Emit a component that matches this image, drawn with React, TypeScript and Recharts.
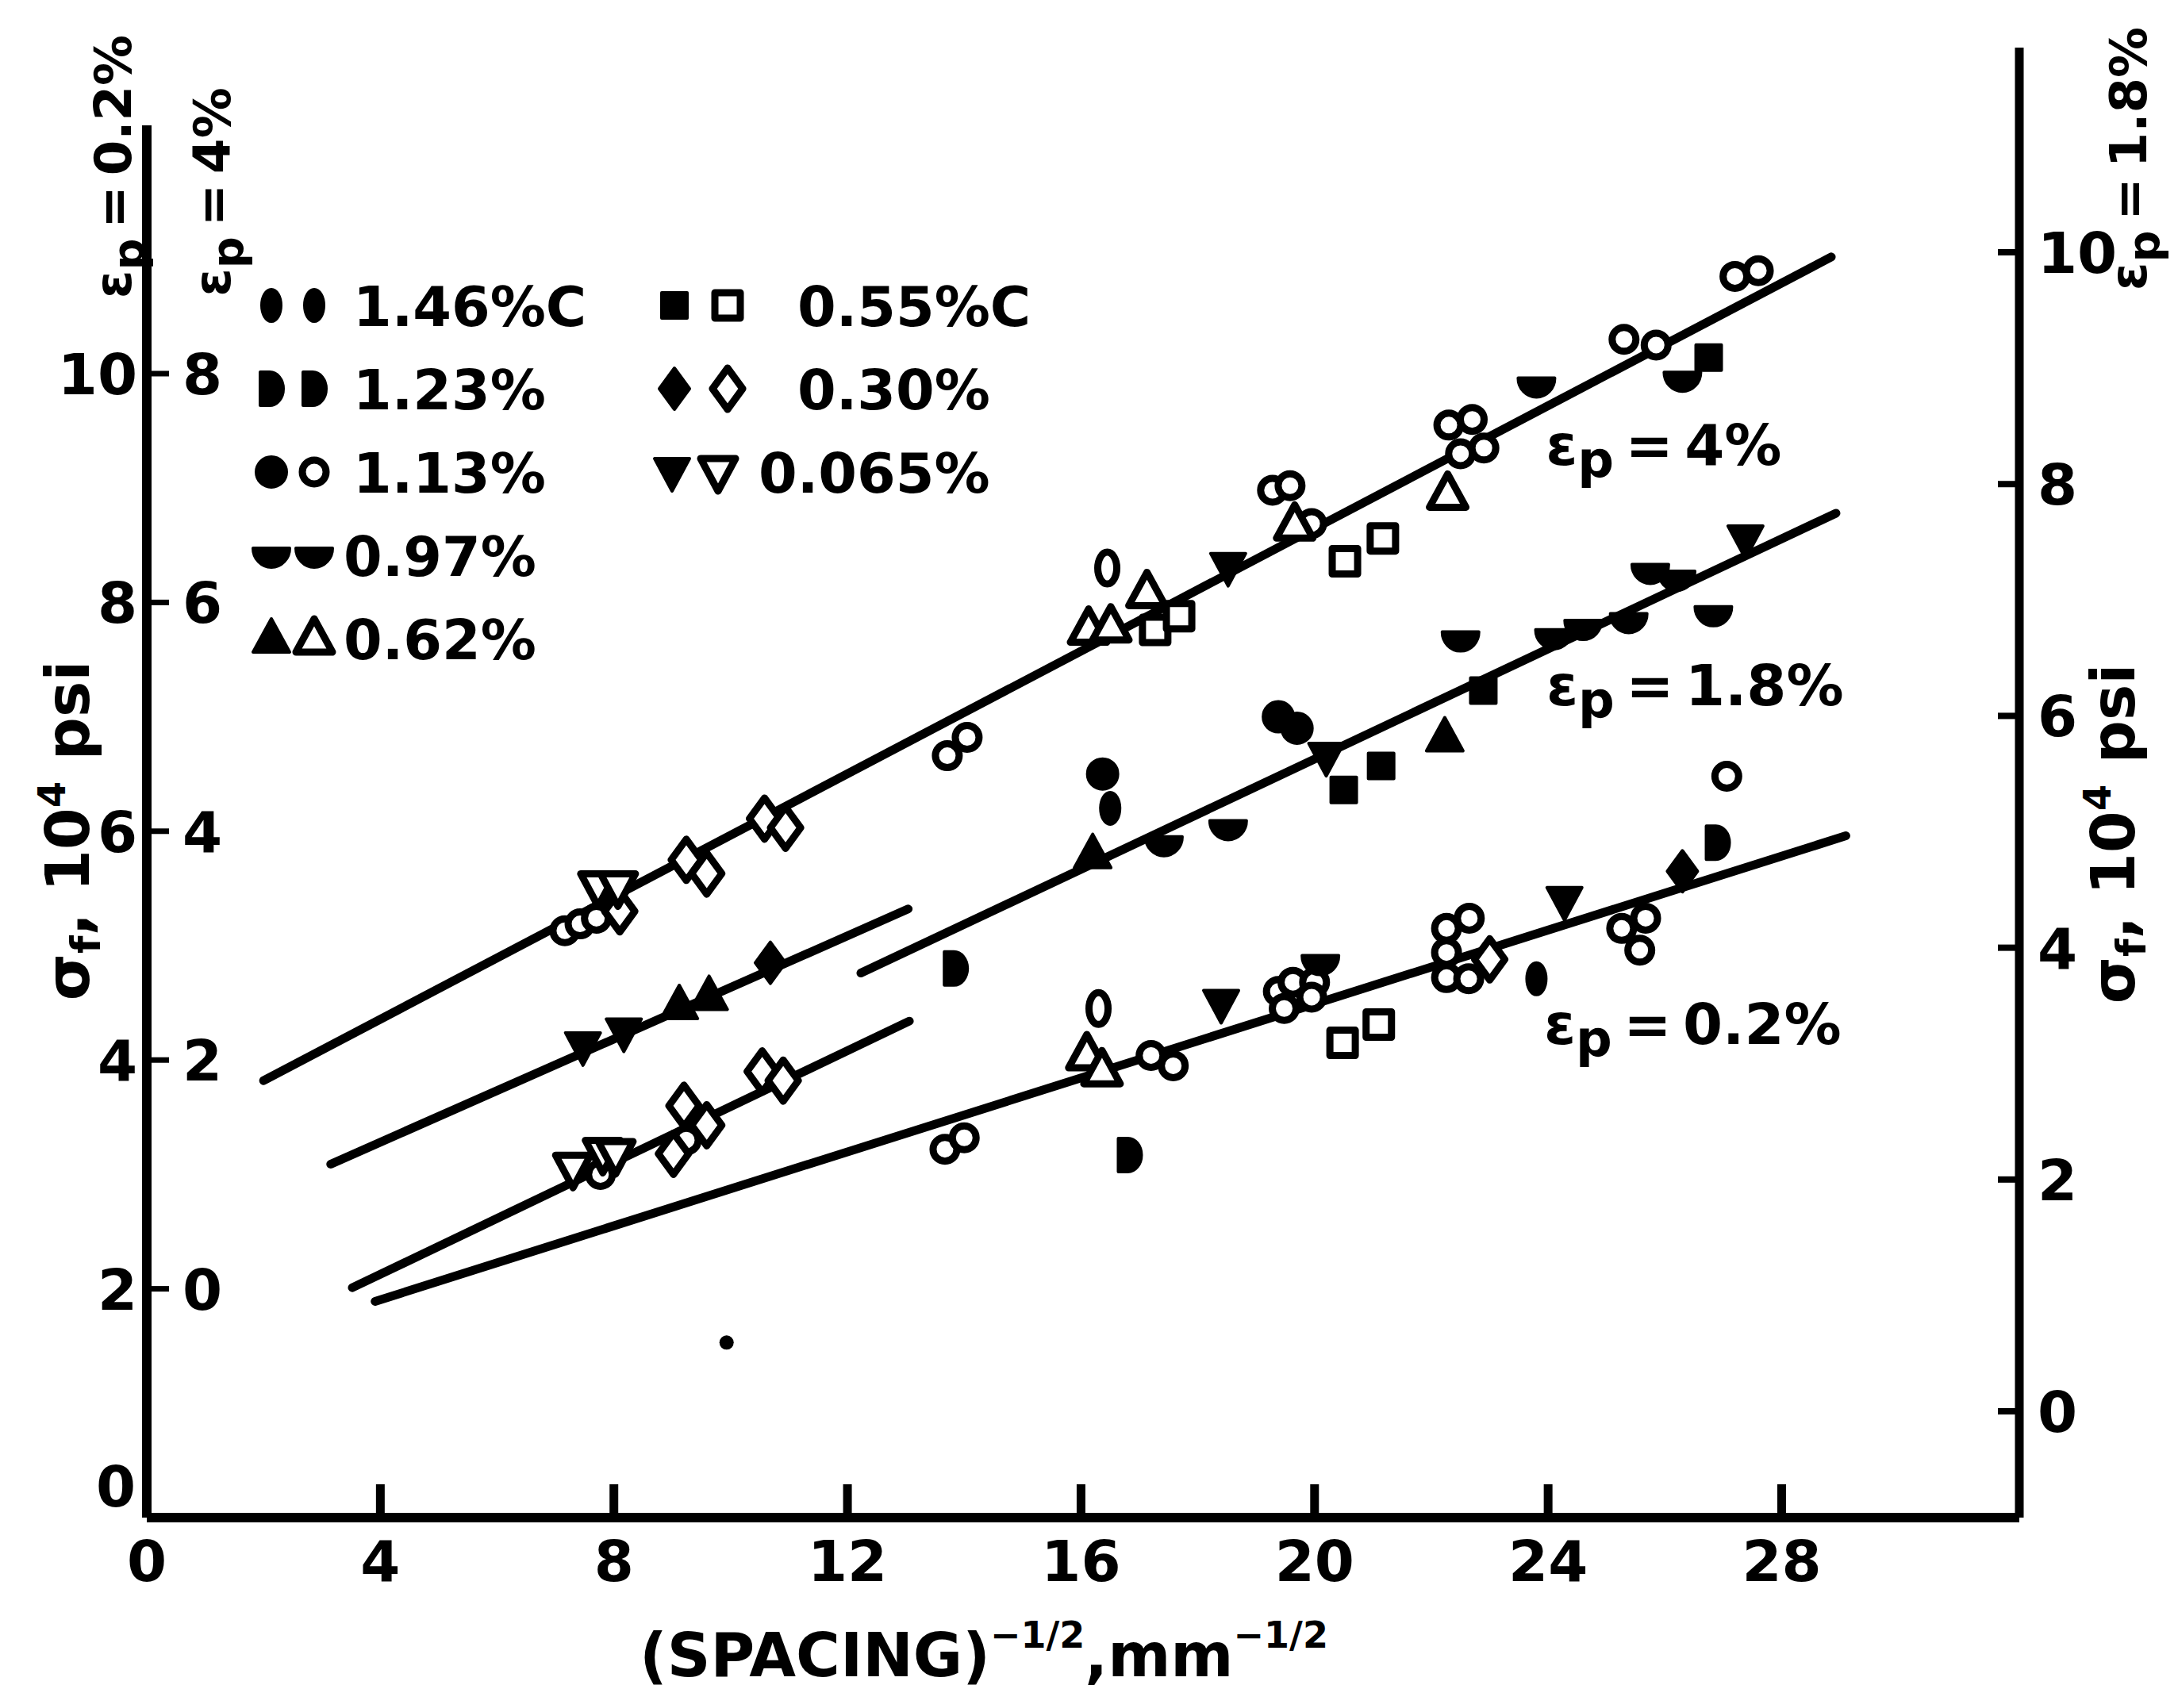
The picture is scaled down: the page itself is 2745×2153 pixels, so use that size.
import React from "react";
import {
  ComposedChart,
  Line,
  Scatter,
  XAxis,
  YAxis,
  ReferenceLine,
  ReferenceDot,
  Legend,
} from "recharts";

type Pt = { x: number; v: number };
type Kind = "ellipse" | "dshape" | "circle" | "halfdisc" | "tri" | "square" | "diamond" | "tridown";

const FONT = "'DejaVu Sans', 'Liberation Sans', sans-serif";
const FS = 72;

// axis ticks
const xTicks = [0, 4, 8, 12, 16, 20, 24, 28];
const leftTicks = [0, 2, 4, 6, 8, 10]; // sigma for 0.2% scale
const leftInnerLabels = ["", "0", "2", "4", "6", "8"]; // 4% scale
const rightTicks = [0, 2, 4, 6, 8, 10];

// fitted lines
const line4pct: Pt[] = [{ x: 2.0, v: 3.82 }, { x: 28.85, v: 11.02 }];
const line18Low: Pt[] = [{ x: 3.15, v: 3.09 }, { x: 13.04, v: 5.32 }];
const line18High: Pt[] = [{ x: 12.23, v: 4.76 }, { x: 28.93, v: 8.78 }];
const line02HighC: Pt[] = [{ x: 3.52, v: 2.01 }, { x: 13.06, v: 4.34 }];
const line02: Pt[] = [{ x: 3.91, v: 1.89 }, { x: 29.1, v: 5.96 }];

// measured points, by carbon content (filled / open)
const c146Filled: Pt[] = [{ x: 23.8, v: 4.71 }, { x: 16.5, v: 6.2 }];
const c146Open: Pt[] = [{ x: 16.3, v: 4.45 }, { x: 16.45, v: 8.3 }];
const c123Filled: Pt[] = [{ x: 13.85, v: 4.8 }, { x: 16.83, v: 3.17 }, { x: 26.9, v: 5.9 }];
const c113Filled: Pt[] = [{ x: 16.37, v: 6.5 }, { x: 19.38, v: 7.0 }, { x: 19.7, v: 6.9 }];
const c113Open: Pt[] = [
  { x: 7.16, v: 5.13 }, { x: 7.42, v: 5.19 }, { x: 7.7, v: 5.24 },
  { x: 13.71, v: 6.66 }, { x: 14.05, v: 6.82 },
  { x: 19.28, v: 8.98 }, { x: 19.58, v: 9.02 }, { x: 19.95, v: 8.69 },
  { x: 22.3, v: 9.55 }, { x: 22.7, v: 9.6 }, { x: 22.5, v: 9.3 }, { x: 22.9, v: 9.35 },
  { x: 25.3, v: 10.3 }, { x: 25.85, v: 10.25 }, { x: 27.2, v: 10.85 }, { x: 27.6, v: 10.9 },
  { x: 7.77, v: 3.0 }, { x: 9.24, v: 3.3 },
  { x: 13.67, v: 3.22 }, { x: 14.0, v: 3.32 }, { x: 17.2, v: 4.04 }, { x: 17.58, v: 3.95 },
  { x: 19.38, v: 4.6 }, { x: 19.63, v: 4.68 }, { x: 20.0, v: 4.68 }, { x: 19.48, v: 4.45 }, { x: 19.95, v: 4.55 },
  { x: 22.26, v: 5.15 }, { x: 22.65, v: 5.24 }, { x: 22.26, v: 4.94 }, { x: 22.26, v: 4.72 }, { x: 22.64, v: 4.71 },
  { x: 25.26, v: 5.15 }, { x: 25.67, v: 5.24 }, { x: 25.57, v: 4.96 },
  { x: 27.06, v: 6.48 },
];
const c097Filled: Pt[] = [
  { x: 17.42, v: 5.89 }, { x: 18.52, v: 6.03 }, { x: 22.5, v: 7.68 }, { x: 24.1, v: 7.7 },
  { x: 24.6, v: 7.78 }, { x: 25.38, v: 7.84 }, { x: 25.75, v: 8.27 }, { x: 26.2, v: 8.21 },
  { x: 26.83, v: 7.9 }, { x: 23.8, v: 9.9 }, { x: 26.3, v: 9.95 }, { x: 20.1, v: 4.85 },
];
const c062Filled: Pt[] = [{ x: 9.12, v: 4.48 }, { x: 9.63, v: 4.56 }, { x: 16.2, v: 5.8 }, { x: 22.23, v: 6.82 }];
const c062Open: Pt[] = [
  { x: 17.13, v: 8.09 }, { x: 16.13, v: 7.77 }, { x: 16.51, v: 7.79 }, { x: 19.66, v: 8.68 },
  { x: 22.28, v: 8.95 }, { x: 16.1, v: 4.05 }, { x: 16.36, v: 3.91 },
];
const c055Filled: Pt[] = [{ x: 20.5, v: 6.36 }, { x: 21.14, v: 6.57 }, { x: 22.89, v: 7.23 }, { x: 26.75, v: 10.14 }];
const c055Open: Pt[] = [
  { x: 17.27, v: 7.76 }, { x: 17.68, v: 7.88 }, { x: 20.52, v: 8.36 }, { x: 21.17, v: 8.56 },
  { x: 20.48, v: 4.15 }, { x: 21.1, v: 4.31 },
];
const c030Filled: Pt[] = [{ x: 10.68, v: 4.85 }, { x: 26.3, v: 5.65 }];
const c030Open: Pt[] = [
  { x: 8.1, v: 5.3 }, { x: 9.24, v: 5.75 }, { x: 9.59, v: 5.63 }, { x: 10.58, v: 6.11 }, { x: 10.94, v: 6.03 },
  { x: 9.2, v: 3.6 }, { x: 9.59, v: 3.43 }, { x: 9.02, v: 3.18 }, { x: 10.54, v: 3.9 }, { x: 10.9, v: 3.82 },
  { x: 23.0, v: 4.88 },
];
const c0065Filled: Pt[] = [
  { x: 7.47, v: 4.12 }, { x: 8.17, v: 4.24 }, { x: 18.52, v: 8.31 }, { x: 20.2, v: 6.65 },
  { x: 27.38, v: 8.55 }, { x: 18.4, v: 4.49 }, { x: 24.28, v: 5.39 },
];
const c0065Open: Pt[] = [
  { x: 7.73, v: 5.51 }, { x: 8.07, v: 5.51 }, { x: 7.3, v: 3.05 }, { x: 7.81, v: 3.18 }, { x: 8.03, v: 3.17 },
];
// stray print dot below the lines
const strayDots: Pt[] = [{ x: 9.93, v: 1.53 }];

// legend entries
const legendLeft = [
  { kind: "ellipse" as Kind, label: "1.46%C" },
  { kind: "dshape" as Kind, label: "1.23%" },
  { kind: "circle" as Kind, label: "1.13%" },
  { kind: "halfdisc" as Kind, label: "0.97%" },
  { kind: "tri" as Kind, label: "0.62%" },
];
const legendRight = [
  { kind: "square" as Kind, label: "0.55%C" },
  { kind: "diamond" as Kind, label: "0.30%" },
  { kind: "tridown" as Kind, label: "0.065%" },
];

// strain labels next to the lines
const strainLabels = [
  { x: 23.96, v: 9.38, text: "4%" },
  { x: 23.97, v: 7.28, text: "1.8%" },
  { x: 23.93, v: 4.32, text: "0.2%" },
];

function Marker({ cx, cy, kind, filled }: { cx: number; cy: number; kind: Kind; filled: boolean }) {
  const fill = filled ? "#000" : "#fff";
  const common = { fill, stroke: "#000", strokeWidth: filled ? 4 : 9, strokeLinejoin: "round" as const };
  switch (kind) {
    case "circle":
      return <circle cx={cx} cy={cy} r={filled ? 19 : 15} {...common} />;
    case "ellipse":
      return <ellipse cx={cx} cy={cy} rx={12} ry={20} {...common} />;
    case "dshape":
      return (
        <path
          d={`M${cx - 14},${cy - 21} L${cx - 2},${cy - 21} A17 21 0 0 1 ${cx - 2},${cy + 21} L${cx - 14},${cy + 21} Z`}
          {...common}
        />
      );
    case "halfdisc":
      return <path d={`M${cx - 23},${cy - 9} L${cx + 23},${cy - 9} A23 24 0 0 1 ${cx - 23},${cy - 9} Z`} {...common} />;
    case "tri":
      return <polygon points={`${cx},${cy - 25} ${cx + 23},${cy + 17} ${cx - 23},${cy + 17}`} {...common} />;
    case "tridown":
      return <polygon points={`${cx - 22},${cy - 17} ${cx + 22},${cy - 17} ${cx},${cy + 24}`} {...common} />;
    case "square":
      return <rect x={cx - 16} y={cy - 16} width={32} height={32} {...common} />;
    case "diamond":
      return <polygon points={`${cx},${cy - 26} ${cx + 19},${cy} ${cx},${cy + 26} ${cx - 19},${cy}`} {...common} />;
  }
  return null;
}

const shapeOf = (kind: Kind, filled: boolean) => (p: any) => (
  <Marker cx={p.cx} cy={p.cy} kind={kind} filled={filled} />
);

const txt = { fontFamily: FONT, fontWeight: 700, fontSize: FS, fill: "#000" };

function StrainText({ x, y, value, rotate }: { x: number; y: number; value: string; rotate?: boolean }) {
  const size = rotate ? 64 : FS;
  return (
    <text
      x={x}
      y={y}
      {...txt}
      fontSize={size}
      textAnchor={rotate ? "middle" : "start"}
      transform={rotate ? `rotate(-90, ${x}, ${y})` : undefined}
    >
      ε<tspan fontSize={size - 8} dy={16}>p</tspan>
      <tspan dy={-16}>{"\u2009=\u2009" + value}</tspan>
    </text>
  );
}

function SigmaTitle({ x, y }: { x: number; y: number }) {
  return (
    <text x={x} y={y} {...txt} fontSize={76} textAnchor="middle" transform={`rotate(-90, ${x}, ${y})`}>
      σ<tspan fontSize={52} dy={14}>f</tspan>
      <tspan dy={-14}>, 10</tspan>
      <tspan fontSize={48} dy={-30}>4</tspan>
      <tspan dy={30}> psi</tspan>
    </text>
  );
}

const LeftDecor = () => (
  <g>
    <SigmaTitle x={112} y={1047} />
    <StrainText x={165} y={210} value="0.2%" rotate />
    <StrainText x={290} y={242} value="4%" rotate />
  </g>
);

const RightDecor = () => (
  <g>
    <SigmaTitle x={2690} y={1051} />
    <StrainText x={2705} y={200} value="1.8%" rotate />
  </g>
);

const XTitle = () => (
  <text x={1240} y={2113} {...txt} fontSize={76} textAnchor="middle">
    (SPACING)
    <tspan fontSize={46} dy={-36}>−1/2</tspan>
    <tspan dy={36}>,mm</tspan>
    <tspan fontSize={46} dy={-36}>−1/2</tspan>
  </text>
);

const XTick = (props: any) => {
  const { x, y, payload } = props;
  return (
    <g>
      {payload.value !== 0 && <line x1={x} x2={x} y1={y} y2={y - 42} stroke="#000" strokeWidth={11} />}
      <text x={x} y={y + 80} {...txt} textAnchor="middle">
        {payload.value}
      </text>
    </g>
  );
};

const LeftTick = (props: any) => {
  const { x, y, payload, index } = props;
  if (payload.value === 0) {
    return (
      <text x={x - 14} y={y - 14} {...txt} textAnchor="end">
        0
      </text>
    );
  }
  return (
    <g>
      <line x1={x} x2={x + 28} y1={y} y2={y} stroke="#000" strokeWidth={7} />
      <text x={x - 12} y={y + 26} {...txt} textAnchor="end">
        {payload.value}
      </text>
      <text x={x + 45} y={y + 26} {...txt} textAnchor="start">
        {leftInnerLabels[index]}
      </text>
    </g>
  );
};

const RightTick = (props: any) => {
  const { x, y, payload } = props;
  return (
    <g>
      <line x1={x - 27} x2={x} y1={y} y2={y} stroke="#000" strokeWidth={8} />
      <text x={x + 23} y={y + 26} {...txt} textAnchor="start">
        {payload.value}
      </text>
    </g>
  );
};

const LegendBox = () => (
  <svg width={1100} height={540} style={{ overflow: "visible" }}>
    {legendLeft.map((e, i) => {
      const cy = 55 + i * 105;
      const tx = e.kind === "halfdisc" || e.kind === "tri" ? 133 : 145;
      return (
        <g key={e.label}>
          <Marker cx={42} cy={cy} kind={e.kind} filled />
          <Marker cx={96} cy={cy} kind={e.kind} filled={e.kind === "ellipse" || e.kind === "dshape" || e.kind === "halfdisc"} />
          <text x={tx} y={cy + 26} {...txt} fontSize={70}>
            {e.label}
          </text>
        </g>
      );
    })}
    {legendRight.map((e, i) => {
      const cy = 55 + i * 105;
      const narrow = e.kind === "tridown";
      return (
        <g key={e.label}>
          <Marker cx={narrow ? 547 : 550} cy={cy} kind={e.kind} filled />
          <Marker cx={narrow ? 605 : 617} cy={cy} kind={e.kind} filled={false} />
          <text x={narrow ? 656 : 705} y={cy + 26} {...txt} fontSize={70}>
            {e.label}
          </text>
        </g>
      );
    })}
  </svg>
);

const StrainLabel = (text: string) => (p: any) => <StrainText x={p.cx} y={p.cy + 26} value={text} />;

export default function App() {
  const series: [Pt[], Kind, boolean][] = [
    [c146Filled, "ellipse", true],
    [c146Open, "ellipse", false],
    [c123Filled, "dshape", true],
    [c113Filled, "circle", true],
    [c113Open, "circle", false],
    [c097Filled, "halfdisc", true],
    [c062Filled, "tri", true],
    [c062Open, "tri", false],
    [c055Filled, "square", true],
    [c055Open, "square", false],
    [c030Filled, "diamond", true],
    [c030Open, "diamond", false],
    [c0065Filled, "tridown", true],
    [c0065Open, "tridown", false],
  ];
  const fitLines = [line4pct, line18Low, line18High, line02HighC, line02];

  return (
    <div style={{ width: 2745, height: 2153, background: "#fff" }}>
      <style>{"body{margin:0}"}</style>
      <ComposedChart width={2745} height={2153} margin={{ top: 60, right: 20, bottom: 80, left: 65 }}>
        <XAxis
          type="number"
          dataKey="x"
          domain={[0, 32.07]}
          allowDataOverflow
          ticks={xTicks}
          tickSize={0}
          tickMargin={0}
          tickLine={false}
          tick={XTick}
          height={160}
          axisLine={{ stroke: "#000", strokeWidth: 12 }}
          label={<XTitle />}
        />
        <YAxis
          yAxisId="left"
          type="number"
          dataKey="v"
          domain={[0, 12.85]}
          allowDataOverflow
          ticks={leftTicks}
          tickSize={0}
          tickMargin={0}
          tickLine={false}
          tick={LeftTick}
          width={120}
          axisLine={false}
          label={<LeftDecor />}
        />
        <YAxis
          yAxisId="right"
          orientation="right"
          type="number"
          domain={[-0.917, 11.766]}
          allowDataOverflow
          ticks={rightTicks}
          tickSize={0}
          tickMargin={0}
          tickLine={false}
          tick={RightTick}
          width={180}
          axisLine={{ stroke: "#000", strokeWidth: 11 }}
          label={<RightDecor />}
        />
        <ReferenceLine
          yAxisId="left"
          segment={[{ x: 0, y: 0 }, { x: 0, y: 12.17 }]}
          stroke="#000"
          strokeWidth={12}
        />
        {fitLines.map((d, i) => (
          <Line
            key={i}
            yAxisId="left"
            data={d}
            dataKey="v"
            type="linear"
            stroke="#000"
            strokeWidth={11}
            strokeLinecap="round"
            dot={false}
            activeDot={false}
            isAnimationActive={false}
          />
        ))}
        {series.map(([d, kind, filled], i) => (
          <Scatter
            key={i}
            yAxisId="left"
            data={d}
            dataKey="v"
            shape={shapeOf(kind, filled)}
            isAnimationActive={false}
          />
        ))}
        <Scatter
          yAxisId="left"
          data={strayDots}
          dataKey="v"
          shape={(p: any) => <circle cx={p.cx} cy={p.cy} r={9} fill="#000" />}
          isAnimationActive={false}
        />
        {strainLabels.map((s) => (
          <ReferenceDot key={s.text} yAxisId="left" x={s.x} y={s.v} r={0} shape={StrainLabel(s.text)} />
        ))}
        <Legend
          layout="horizontal"
          verticalAlign="middle"
          align="center"
          content={() => <LegendBox />}
          wrapperStyle={{ position: "absolute", left: 300, top: 330, width: 1100, height: 540 }}
        />
      </ComposedChart>
    </div>
  );
}
